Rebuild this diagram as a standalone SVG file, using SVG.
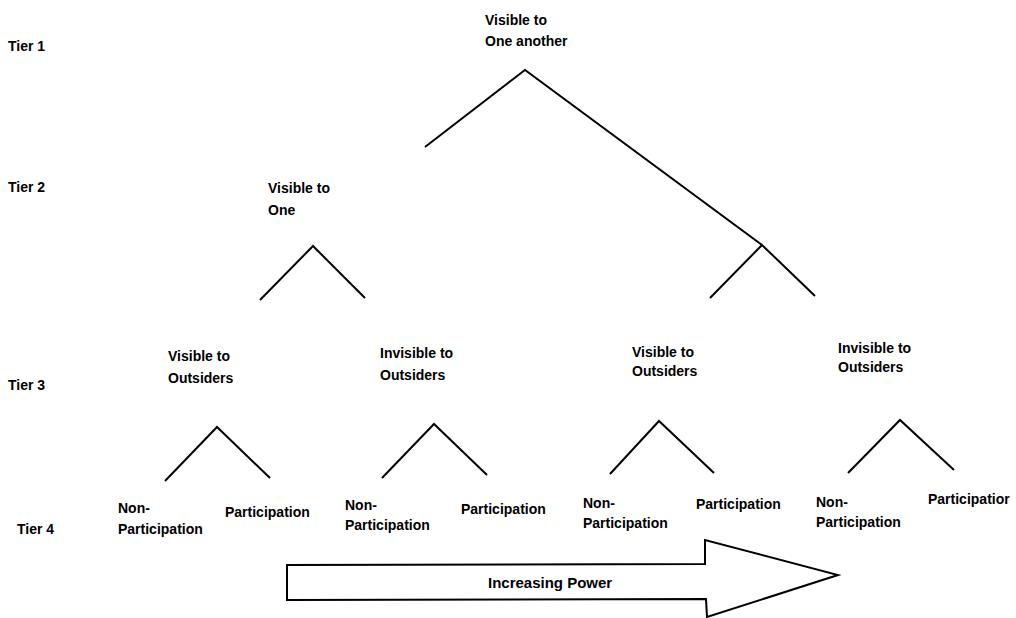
<svg xmlns="http://www.w3.org/2000/svg" width="1016" height="618" viewBox="0 0 1016 618">
<style>
text{font-family:"Liberation Sans",Arial,sans-serif;font-weight:bold;font-size:14px;fill:#000}
.ln{stroke:#000;stroke-width:2;fill:none;stroke-linecap:butt}
</style>
<rect width="1016" height="618" fill="#fff"/>
<g id="tiers">
<text x="8" y="51">Tier 1</text>
<text x="8" y="192">Tier 2</text>
<text x="8" y="390">Tier 3</text>
<text x="17" y="534">Tier 4</text>
</g>
<g id="connectors">
<polyline class="ln" points="425,147 525,70 762,245 815,296"/>
<polyline class="ln" points="710,298 762,245"/>
<polyline class="ln" points="260,300 313,246 365,298"/>
<polyline class="ln" points="165,481 217,427 270,478"/>
<polyline class="ln" points="382,478 434,424 487,475"/>
<polyline class="ln" points="610,474 659,421 714,473"/>
<polyline class="ln" points="848,473 900,420 954,470"/>
</g>
<g id="n-root"><text x="485" y="25">Visible to</text><text x="485" y="46">One another</text></g>
<g id="n-one"><text x="268" y="193">Visible to</text><text x="268" y="215">One</text></g>
<g id="n-vo1"><text x="168" y="361">Visible to</text><text x="168" y="383">Outsiders</text></g>
<g id="n-io1"><text x="380" y="358">Invisible to</text><text x="380" y="380">Outsiders</text></g>
<g id="n-vo2"><text x="632" y="357">Visible to</text><text x="632" y="376">Outsiders</text></g>
<g id="n-io2"><text x="838" y="353">Invisible to</text><text x="838" y="372">Outsiders</text></g>
<g id="n-np1"><text x="118" y="513">Non-</text><text x="118" y="534">Participation</text></g>
<g id="n-p1"><text x="225" y="517">Participation</text></g>
<g id="n-np2"><text x="345" y="510">Non-</text><text x="345" y="530">Participation</text></g>
<g id="n-p2"><text x="461" y="514">Participation</text></g>
<g id="n-np3"><text x="583" y="508">Non-</text><text x="583" y="528">Participation</text></g>
<g id="n-p3"><text x="696" y="509">Participation</text></g>
<g id="n-np4"><text x="816" y="507">Non-</text><text x="816" y="527">Participation</text></g>
<g id="n-p4"><text x="928" y="504">Participatior</text></g>
<g id="arrow">
<polygon points="287,565 705,564 705,540 838,575 707,617 706,599 287,600" fill="#fff" stroke="#000" stroke-width="2"/>
<text x="488" y="588" style="font-size:15px">Increasing Power</text>
</g>
</svg>
